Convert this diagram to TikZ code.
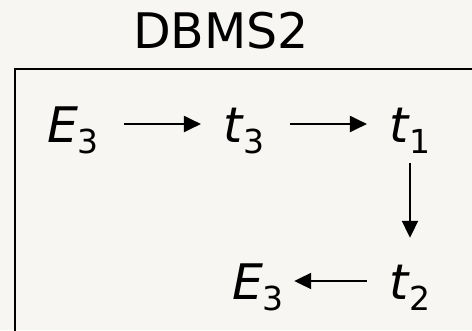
\documentclass[tikz,border=0pt]{standalone}
\usepackage{fontspec}
\setmainfont{DejaVu Sans}
\usetikzlibrary{arrows.meta}
\definecolor{slidebg}{RGB}{247,246,242}
\newcommand{\evsym}[2]{\textit{#1}\raisebox{-11pt}{\fontsize{33}{33}\selectfont #2}}

\begin{document}
\begin{tikzpicture}[x=1pt,y=-1pt,
    var/.style={font=\fontsize{49}{49}\selectfont, anchor=base,
      inner xsep=22pt, inner ysep=21pt, text height=36pt, text depth=0pt},
    flow/.style={-{Triangle[length=17pt,width=16pt]}, line width=2pt}]
    \fill[slidebg] (0,0) rectangle (472,330);
    \clip (0,0) rectangle (472,330);
    % title and frame
    \node[font=\fontsize{49}{49}\selectfont, anchor=base] (title) at (221,48) {DBMS2};
    \draw[line width=2pt] (15,69) rectangle (490,350);
    % events
    \node[var] (e3a) at (73,142) {\evsym{E}{3}};
    \node[var] (t3) at (244,142) {\evsym{t}{3}};
    \node[var] (t1) at (410,142) {\evsym{t}{1}};
    \node[var] (t2) at (410,299) {\evsym{t}{2}};
    \node[var, inner xsep=10pt] (e3b) at (258,299) {\evsym{E}{3}};
    \draw[flow, shorten <=3pt] (e3a) -- (t3);
    \draw[flow, shorten <=3pt] (t3) -- (t1);
    \draw[flow, shorten >=4pt] (t1) -- (t2);
    \draw[flow] (t2) -- (e3b);
\end{tikzpicture}
\end{document}
